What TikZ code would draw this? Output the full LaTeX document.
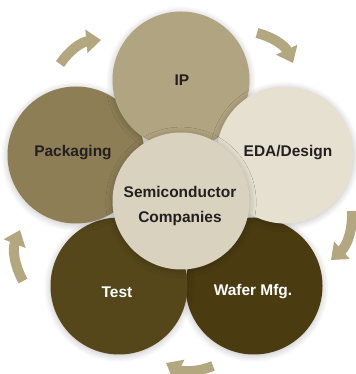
\documentclass[tikz,border=0pt]{standalone}
\usepackage{fontspec}
\setmainfont{Liberation Sans}
\usetikzlibrary{calc}
\usetikzlibrary{arrows.meta}
\usetikzlibrary{shadows.blur}

\definecolor{cIP}{HTML}{B1A480}
\definecolor{cPack}{HTML}{8D7E55}
\definecolor{cEDA}{HTML}{E6E0D0}
\definecolor{cHub}{HTML}{D9D2BE}
\definecolor{cTest}{HTML}{56471A}
\definecolor{cWafer}{HTML}{4A3B10}
\definecolor{cArr}{HTML}{B3A77F}
\definecolor{cTxt}{HTML}{231F20}

\tikzset{
  ring/.style={circle,minimum size=102.75pt,inner sep=0pt,
    blur shadow={shadow xshift=0pt,shadow yshift=-1pt,shadow blur radius=5pt,shadow blur steps=8,shadow opacity=25}},
  txt/.style={align=center,text=cTxt},
  turn/.style={draw=cArr,line width=7.5pt,-{Triangle[width=17pt,length=11pt]}}
}

\begin{document}
\begin{tikzpicture} [x=0.75pt,y=0.75pt,font=\bfseries\fontsize{11.6}{18.75}\selectfont]
\useasboundingbox (0,0) rectangle (355,374);

% circles, from the lowest to the top one
\node[ring,fill=cWafer] (W) at (254,88) {};
\node[ring,fill=cTest] (T) at (119,88) {};
\node[ring,fill=cPack] (P) at (76,219) {};
\node[ring,fill=cIP] (I) at (181,294) {};
\node[ring,fill=cEDA] (E) at (285,219) {};
\node[ring,fill=cHub] (H) at (181,173) {};

\node[txt] (Il) at ($(I)+(1,0)$) {IP};
\node[txt] (Pl) at ($(P)+(-3,2)$) {Packaging};
\node[txt] (El) at ($(E)+(3,2)$) {EDA/Design};
\node[txt,text=white] (Tl) at ($(T)+(-2,-6)$) {Test};
\node[txt,text=white] (Wl) at ($(W)+(-1,-6)$) {Wafer Mfg.};
\node[txt] (Hl) at ($(H)+(-1,-5)$) {Semiconductor\\Companies};

% arrows round the ring
\coordinate (a1) at (60,310);  \coordinate (b1) at (101,334);
\coordinate (a2) at (257,341); \coordinate (b2) at (293,311);
\coordinate (a3) at (352,163); \coordinate (b3) at (331,114);
\coordinate (a4) at (213,8);   \coordinate (b4) at (166,11);
\coordinate (a5) at (23,93);   \coordinate (b5) at (20,144);

\draw[turn] (a1) to[bend left=25] (b1);
\draw[turn] (a2) to[bend left=25] (b2);
\draw[turn] (a3) to[bend left=25] (b3);
\draw[turn] (a4) to[bend left=25] (b4);
\draw[turn] (a5) to[bend left=25] (b5);

\end{tikzpicture}
\end{document}
